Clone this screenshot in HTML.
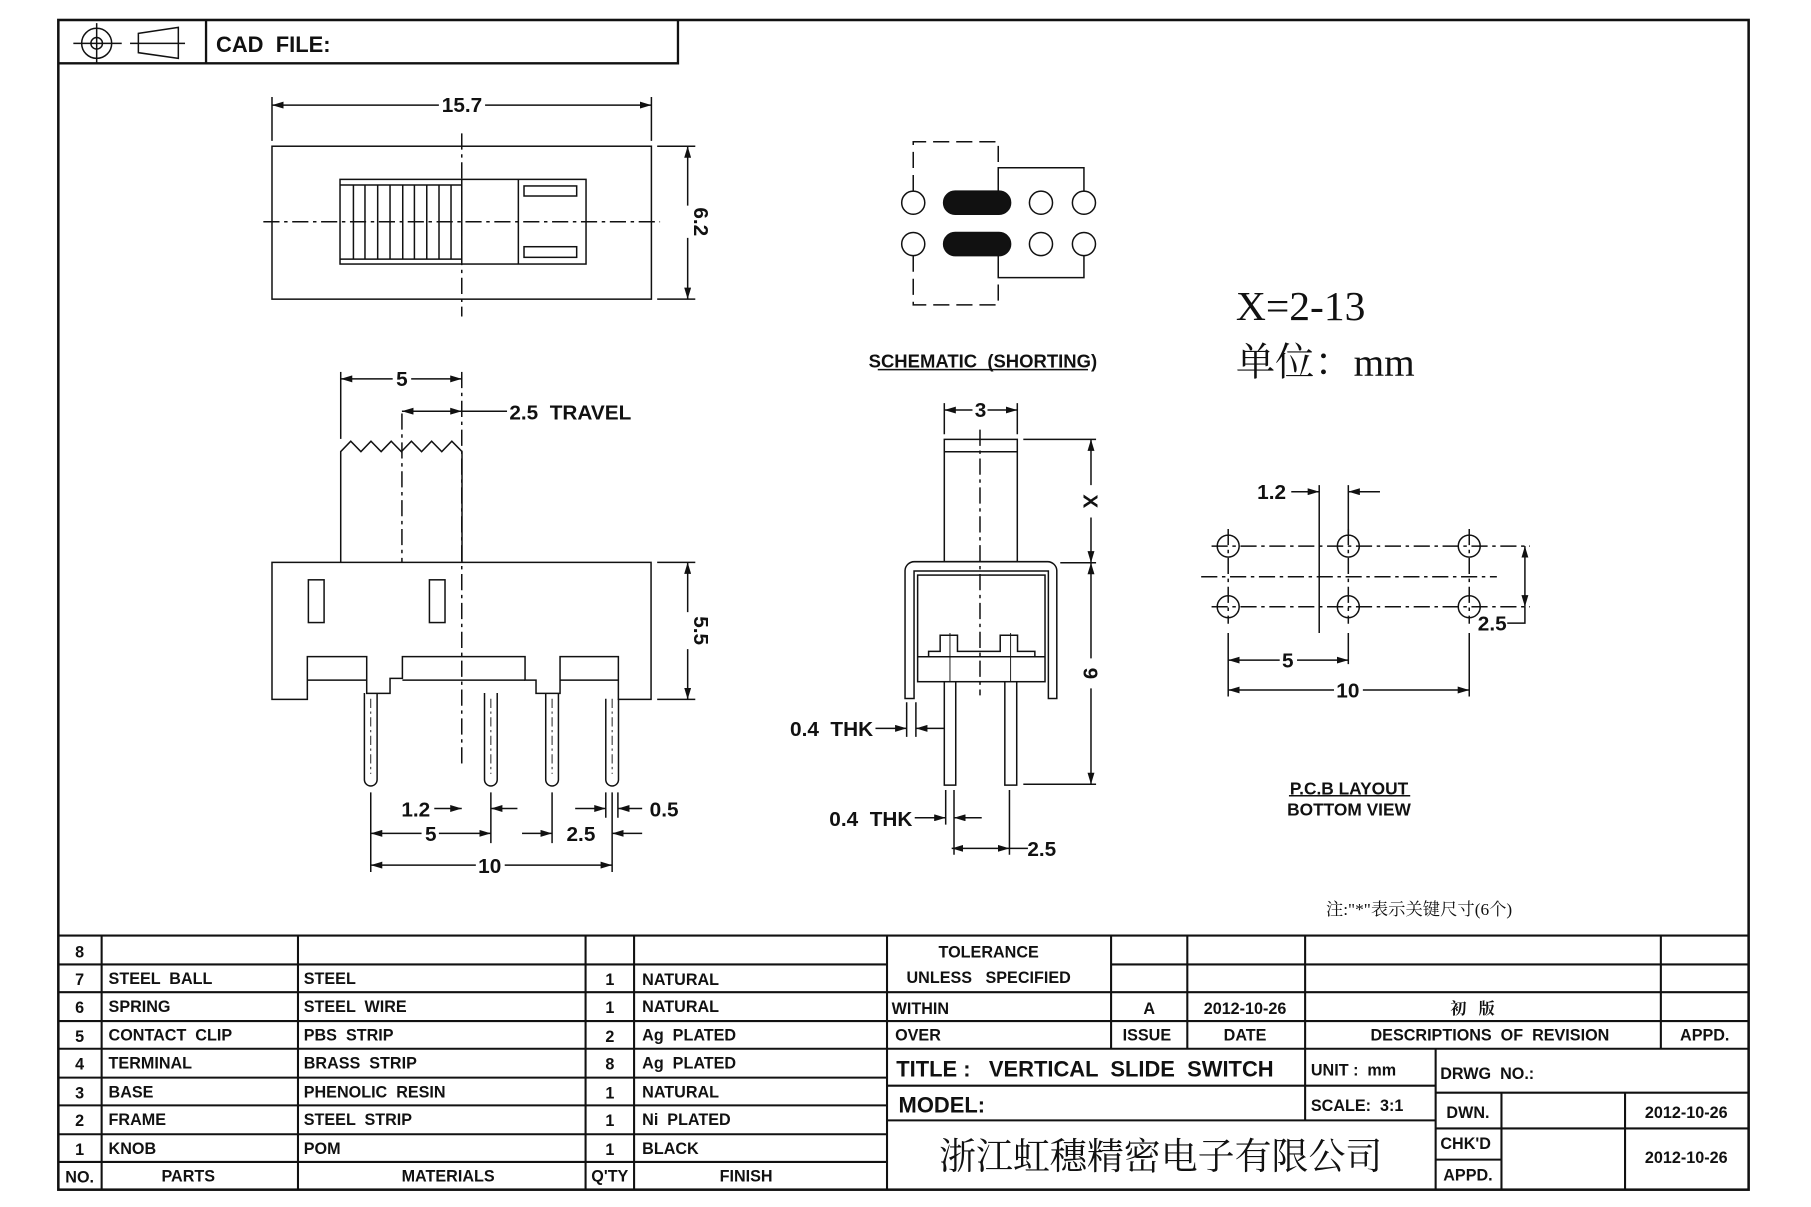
<!DOCTYPE html>
<html><head><meta charset="utf-8"><style>
html,body{margin:0;padding:0;background:#fff}
svg{display:block}
text{white-space:pre}
.t{font-family:"Liberation Sans Narrow","Liberation Sans","Noto Sans CJK SC",sans-serif;font-weight:bold;fill:#111;white-space:pre}
.s{font-family:"Liberation Serif","Noto Serif CJK SC",serif;fill:#111;white-space:pre}
</style></head><body>
<svg width="1811" height="1207" viewBox="0 0 1568 1045" preserveAspectRatio="none" xmlns="http://www.w3.org/2000/svg" xml:space="preserve">
<defs>
<marker id="a" viewBox="0 0 10 6" refX="10" refY="3" markerWidth="10" markerHeight="6" markerUnits="userSpaceOnUse" orient="auto-start-reverse"><path d="M0,0L10,3L0,6z" fill="#111"/></marker>
</defs>
<g fill="none" stroke="#111" stroke-width="1.3">
<rect x="50.5" y="17.3" width="1463.5" height="1012.7" stroke-width="2.2"/>
<path d="M50.5 54.8H587V17.3M178.4 17.3V54.8" stroke-width="2"/>
<circle cx="83.7" cy="37.5" r="13"/><circle cx="83.7" cy="37.5" r="5"/>
<path d="M63.5 37.5H105.4M83.7 20V55"/>
<path d="M119.8 28.9L154.4 23.7V50.5L119.8 45.6ZM112.6 37.5H160.2"/>

<rect x="235.5" y="126.6" width="328.5" height="132.4"/>
<path d="M235.5 84V122M564 84V122" />
<path d="M235.5 91H380M420 91H564" marker-start="url(#a)" marker-end="url(#a)"/>
<path d="M569 126.6H602M569 259H602"/>
<path d="M595.4 126.6V178M595.4 206V259" marker-start="url(#a)" marker-end="url(#a)"/>
<rect x="294.4" y="155.3" width="213" height="73.3"/>
<path d="M294.4 160.2H399.8M294.4 224.3H399.8M399.8 155.3V228.6M448.8 155.3V228.6"/>
<path d="M306 160V224M316 160V224M327 160V224M337.7 160V224M348.7 160V224M358.8 160V224M369.5 160V224M380.1 160V224M390.5 160V224"/>
<rect x="453.7" y="161" width="45.6" height="8.7"/><rect x="453.7" y="213.6" width="45.6" height="9.2"/>
<path d="M399.8 115.5V274M228 192H571.5" stroke-dasharray="14 4 3 4"/>

<path d="M235.5 486.9H563.7V605.5H535.4V568.5H484.9V600.3H464.1V588.8H454.6V568.5H348.4V587.3H337.7V600.3H317.5V568.5H266.1V605.5H235.5Z"/>
<path d="M266.1 588.8H317.5M348.4 588.8H454.6M484.9 588.8H535.4"/>
<rect x="267" y="502" width="13.6" height="37"/><rect x="371.8" y="502" width="13.5" height="37"/>
<path d="M295 486.9V391L303.7 382L312.5 391L321.2 382L330 391L338.7 382L347.5 391L356.2 382L365 391L373.7 382L382.5 391L391.2 382L400 391V486.9"/>
<path d="M348 358V487" stroke-dasharray="14 4 3 4"/>
<path d="M399.8 322V665" stroke-dasharray="14 4 3 4"/>
<path d="M295 322V380"/>
<path d="M295 328H340M356 328H399.8" marker-start="url(#a)" marker-end="url(#a)"/>
<path d="M348 356H399.8" marker-start="url(#a)" marker-end="url(#a)"/>
<path d="M399.8 356H439"/>
<path d="M315.5 600V675a5.5 5.5 0 0 0 11 0V600M419.5 600V675a5.5 5.5 0 0 0 11 0V600M472.5 600V675a5.5 5.5 0 0 0 11 0V600M524.5 605V675a5.5 5.5 0 0 0 11 0V605"/>
<path d="M321 605V670M425 605V670M478 605V670M530 605V670" stroke-dasharray="8 3 2 3" stroke-width="0.8"/>
<path d="M321 686V755M425 686V730M478 686V730M530 686V755M524.5 686V708M535 686V708"/>
<path d="M376 700H399.8" marker-end="url(#a)"/><path d="M448 700H425" marker-end="url(#a)"/>
<path d="M498 700H524.5" marker-end="url(#a)"/><path d="M556 700H535" marker-end="url(#a)"/>
<path d="M321 721.5H365M380 721.5H425" marker-start="url(#a)" marker-end="url(#a)"/>
<path d="M452 721.5H478" marker-end="url(#a)"/><path d="M556 721.5H530" marker-end="url(#a)"/>
<path d="M321 749H412M437 749H530" marker-start="url(#a)" marker-end="url(#a)"/>
<path d="M569 486.9H602M569 605.5H602"/>
<path d="M595.4 486.9V530M595.4 562V605.5" marker-start="url(#a)" marker-end="url(#a)"/>

<circle cx="790.7" cy="175.5" r="10"/><circle cx="790.7" cy="211.3" r="10"/>
<circle cx="901.3" cy="175.5" r="10"/><circle cx="901.3" cy="211.3" r="10"/>
<circle cx="938.5" cy="175.5" r="10"/><circle cx="938.5" cy="211.3" r="10"/>
<rect x="817" y="165.5" width="58" height="20" rx="10" fill="#111"/>
<rect x="817" y="201.3" width="58" height="20" rx="10" fill="#111"/>
<path d="M790.7 165.5V122.7H864.3V165.5M790.7 221.3V264H864.3V221.3" stroke-dasharray="14 6"/>
<path d="M864.3 165.5V145.2H938.5V165.5M864.3 221.3V240.4H938.5V221.3"/>
<path d="M760 320H942"/>

<rect x="817.6" y="380.4" width="63.2" height="105.9"/>
<path d="M817.6 391.1H880.8"/>
<path d="M783.6 604.7V494a8 8 0 0 1 8 -7.7H907a8 8 0 0 1 8 7.7V604.7H907.7V494.4H791.4V604.7Z"/>
<rect x="794.5" y="497.9" width="110.3" height="92.3"/>
<path d="M794.5 568.6H904.8"/>
<path d="M804 568.6V564H814V550H829V564H866V550H881V564H896V568.6"/>
<path d="M817.6 590V679.7H827.5V590M870 590V679.7H880.3V590"/>
<path d="M848.5 372V602" stroke-dasharray="14 4 3 4"/>
<path d="M822.5 548V590M875 548V590" stroke-width="0.8"/>
<path d="M817.6 349V376M880.8 349V376"/>
<path d="M817.6 355H842M855 355H880.8" marker-start="url(#a)" marker-end="url(#a)"/>
<path d="M886 380.4H949M918 487.2H949M886 679H949"/>
<path d="M944.6 380.4V420M944.6 448V487.2" marker-start="url(#a)" marker-end="url(#a)"/>
<path d="M944.6 487.2V570M944.6 596V679" marker-start="url(#a)" marker-end="url(#a)"/>
<path d="M785 608V638M793 608V638"/>
<path d="M758 630.6H785" marker-end="url(#a)"/><path d="M818 630.6H793" marker-end="url(#a)"/>
<path d="M818.8 684V714M826 684V740M874 684V740"/>
<path d="M792 708H818.8" marker-end="url(#a)"/><path d="M850 708H826" marker-end="url(#a)"/>
<path d="M824 734.5H874" marker-start="url(#a)" marker-end="url(#a)"/>
<path d="M874 734.5H890"/>

<g>
<circle cx="1063.4" cy="472.8" r="9.5"/><circle cx="1167.4" cy="472.8" r="9.5"/><circle cx="1272.1" cy="472.8" r="9.5"/>
<circle cx="1063.4" cy="525.3" r="9.5"/><circle cx="1167.4" cy="525.3" r="9.5"/><circle cx="1272.1" cy="525.3" r="9.5"/>
<path d="M1049 472.8H1324.6M1049 525.3H1324.6M1040 499.3H1296" stroke-dasharray="14 4 3 4"/>
<path d="M1063.4 458V540M1167.4 458V540M1272.1 458V540" stroke-dasharray="14 4 3 4"/>
<path d="M1142.2 420V548M1167.4 420V462M1063.4 548V603M1167.4 548V575M1272.1 548V603"/>
<path d="M1118 425.7H1142.2" marker-end="url(#a)"/><path d="M1194.8 425.7H1167.4" marker-end="url(#a)"/>
<path d="M1063.4 571.5H1108M1123 571.5H1167.4" marker-start="url(#a)" marker-end="url(#a)"/>
<path d="M1063.4 597.4H1155M1180 597.4H1272.1" marker-start="url(#a)" marker-end="url(#a)"/>
<path d="M1320.3 472.8V525.3" marker-start="url(#a)" marker-end="url(#a)"/>
<path d="M1305 539.5H1320.3V525.3"/>
<path d="M1116 689H1221"/>
</g>

<g stroke-width="1.8">
<path d="M50.5 810H1514M50.5 835H768M50.5 859H1514M50.5 884H1514M50.5 908H1514M50.5 933H768M50.5 957H768M50.5 982H768M50.5 1006H768"/>
<path d="M962 835H1514"/>
<path d="M88 810V1030M258 810V1030M507 810V1030M549 810V1030M768 810V1030"/>
<path d="M962 810V908M1028 810V908M1130 810V908M1438 810V908"/>
<path d="M768 940H1243M768 970H1243M1130 908V970M1243 908V1030M1243 946H1514M1243 977H1514M1243 1004H1300M1300 946V1030M1407 946V1030"/>
</g>
</g>

<text class="t" x="187" y="45" font-size="19">CAD  FILE:</text>
<text class="t" x="400" y="97" font-size="18" text-anchor="middle">15.7</text>
<text class="t" x="0" y="0" font-size="18" text-anchor="middle" transform="translate(601,192) rotate(90)">6.2</text>
<text class="t" x="348" y="334" font-size="18" text-anchor="middle">5</text>
<text class="t" x="441" y="363" font-size="18">2.5  TRAVEL</text>
<text class="t" x="0" y="0" font-size="18" text-anchor="middle" transform="translate(601,546) rotate(90)">5.5</text>
<text class="t" x="360" y="707" font-size="18" text-anchor="middle">1.2</text>
<text class="t" x="373" y="728" font-size="18" text-anchor="middle">5</text>
<text class="t" x="424" y="756" font-size="18" text-anchor="middle">10</text>
<text class="t" x="503" y="728" font-size="18" text-anchor="middle">2.5</text>
<text class="t" x="575" y="707" font-size="18" text-anchor="middle">0.5</text>
<text class="t" x="851" y="318" font-size="16" text-anchor="middle">SCHEMATIC  (SHORTING)</text>
<text class="t" x="849" y="361" font-size="18" text-anchor="middle">3</text>
<text class="t" x="0" y="0" font-size="18" text-anchor="middle" transform="translate(938,434) rotate(90)">X</text>
<text class="t" x="0" y="0" font-size="18" text-anchor="middle" transform="translate(938,583) rotate(90)">9</text>
<text class="t" x="720" y="637" font-size="18" text-anchor="middle">0.4  THK</text>
<text class="t" x="754" y="715" font-size="18" text-anchor="middle">0.4  THK</text>
<text class="t" x="902" y="741" font-size="18" text-anchor="middle">2.5</text>
<text class="s" x="1070" y="277" font-size="36">X=2-13</text>
<text class="s" x="1070" y="325" font-size="34">单位：mm</text>
<text class="t" x="1101" y="432" font-size="18" text-anchor="middle">1.2</text>
<text class="t" x="1292" y="546" font-size="18" text-anchor="middle">2.5</text>
<text class="t" x="1115" y="578" font-size="18" text-anchor="middle">5</text>
<text class="t" x="1167" y="604" font-size="18" text-anchor="middle">10</text>
<text class="t" x="1168" y="688" font-size="15" text-anchor="middle">P.C.B LAYOUT</text>
<text class="t" x="1168" y="706" font-size="15" text-anchor="middle">BOTTOM VIEW</text>
<text class="s" x="1148" y="792" font-size="15">注:"*"表示关键尺寸(6个)</text>

<g class="t" font-size="14">
<text x="69" y="829" text-anchor="middle">8</text>
<text x="69" y="853" text-anchor="middle">7</text><text x="94" y="852">STEEL  BALL</text><text x="263" y="852">STEEL</text><text x="528" y="853" text-anchor="middle">1</text><text x="556" y="853">NATURAL</text>
<text x="69" y="877" text-anchor="middle">6</text><text x="94" y="876">SPRING</text><text x="263" y="876">STEEL  WIRE</text><text x="528" y="877" text-anchor="middle">1</text><text x="556" y="876">NATURAL</text>
<text x="69" y="902" text-anchor="middle">5</text><text x="94" y="901">CONTACT  CLIP</text><text x="263" y="901">PBS  STRIP</text><text x="528" y="902" text-anchor="middle">2</text><text x="556" y="901">Ag  PLATED</text>
<text x="69" y="926" text-anchor="middle">4</text><text x="94" y="925">TERMINAL</text><text x="263" y="925">BRASS  STRIP</text><text x="528" y="926" text-anchor="middle">8</text><text x="556" y="925">Ag  PLATED</text>
<text x="69" y="951" text-anchor="middle">3</text><text x="94" y="950">BASE</text><text x="263" y="950">PHENOLIC  RESIN</text><text x="528" y="951" text-anchor="middle">1</text><text x="556" y="950">NATURAL</text>
<text x="69" y="975" text-anchor="middle">2</text><text x="94" y="974">FRAME</text><text x="263" y="974">STEEL  STRIP</text><text x="528" y="975" text-anchor="middle">1</text><text x="556" y="974">Ni  PLATED</text>
<text x="69" y="1000" text-anchor="middle">1</text><text x="94" y="999">KNOB</text><text x="263" y="999">POM</text><text x="528" y="1000" text-anchor="middle">1</text><text x="556" y="999">BLACK</text>
<text x="69" y="1024" text-anchor="middle">NO.</text><text x="163" y="1023" text-anchor="middle">PARTS</text><text x="388" y="1023" text-anchor="middle">MATERIALS</text><text x="528" y="1023" text-anchor="middle">Q'TY</text><text x="646" y="1023" text-anchor="middle">FINISH</text>
<text x="856" y="829" text-anchor="middle">TOLERANCE</text>
<text x="856" y="851" text-anchor="middle">UNLESS   SPECIFIED</text>
<text x="772" y="878">WITHIN</text><text x="775" y="901">OVER</text>
<text x="995" y="878" text-anchor="middle">A</text><text x="1078" y="878" text-anchor="middle">2012-10-26</text>
<text x="1275" y="878" text-anchor="middle" class="s">初   版</text>
<text x="993" y="901" text-anchor="middle">ISSUE</text><text x="1078" y="901" text-anchor="middle">DATE</text><text x="1290" y="901" text-anchor="middle">DESCRIPTIONS  OF  REVISION</text><text x="1476" y="901" text-anchor="middle">APPD.</text>
<text x="1135" y="931">UNIT :  mm</text>
<text x="1135" y="962">SCALE:  3:1</text>
<text x="1247" y="934">DRWG  NO.:</text>
<text x="1271" y="968" text-anchor="middle">DWN.</text>
<text x="1269" y="995" text-anchor="middle">CHK'D</text>
<text x="1271" y="1022" text-anchor="middle">APPD.</text>
<text x="1460" y="968" text-anchor="middle">2012-10-26</text>
<text x="1460" y="1007" text-anchor="middle">2012-10-26</text>
</g>
<text class="t" x="776" y="932" font-size="19">TITLE :   VERTICAL  SLIDE  SWITCH</text>
<text class="t" x="778" y="963" font-size="19">MODEL:</text>
<text class="s" x="1005" y="1012" font-size="32" text-anchor="middle">浙江虹穗精密电子有限公司</text>
</svg>
</body></html>
